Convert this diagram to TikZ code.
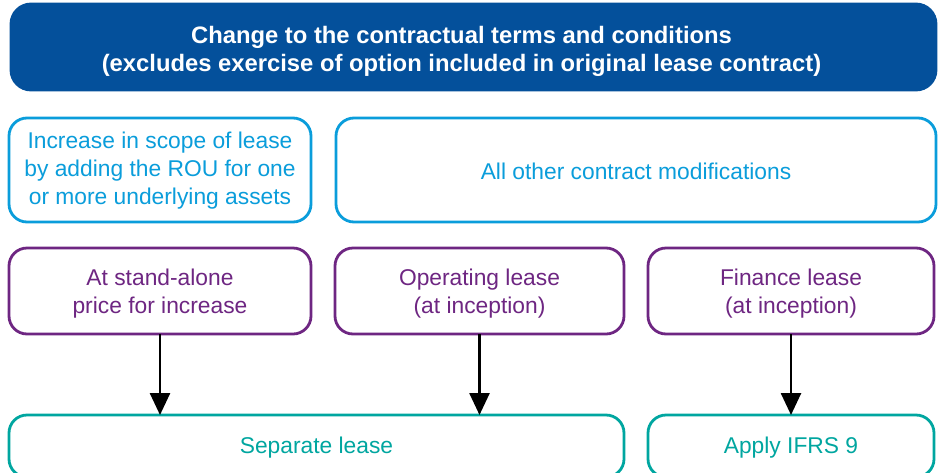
\documentclass[tikz,border=0pt]{standalone}
\usepackage{fontspec}
\setmainfont{Liberation Sans}
\usetikzlibrary{arrows.meta}
\definecolor{darkblue}{RGB}{4,80,155}
\definecolor{lightblue}{RGB}{10,157,219}
\definecolor{kpurple}{RGB}{110,38,130}
\definecolor{kteal}{RGB}{0,166,160}
\tikzset{
  box/.style={draw, rounded corners=18pt, line width=2.8pt, fill=white,
    inner sep=0pt, outer sep=0pt},
  txt/.style={align=center, inner sep=0pt, font=\fontsize{22.8}{28}\selectfont},
  headbox/.style={box, draw=darkblue, fill=darkblue, rounded corners=20pt},
  headtxt/.style={txt, text=white, font=\fontsize{23.8}{28}\selectfont\bfseries},
  bluebox/.style={box, draw=lightblue},
  purplebox/.style={box, draw=kpurple},
  tealbox/.style={box, draw=kteal},
  flow/.style={line width=2.6pt, -{Triangle[width=20pt,length=22pt]}}
}
\begin{document}
\begin{tikzpicture}[x=1pt,y=-1pt]
\useasboundingbox (0,0) rectangle (942,472);
\node[headbox, minimum width=925pt, minimum height=86pt] (head) at (473.5,47) {};
\node[headtxt] (headt) at ([xshift=-12pt,yshift=-4pt]head.center)
  {Change to the contractual terms and conditions\\(excludes exercise of option included in original lease contract)};
\node[bluebox, minimum width=302pt, minimum height=104pt] (inc) at (160,170) {};
\node[txt, text=lightblue] (inct) at ([yshift=-1pt]inc.center)
  {Increase in scope of lease\\by adding the ROU for one\\or more underlying assets};
\node[bluebox, minimum width=600pt, minimum height=104pt] (other) at (636,170) {};
\node[txt, text=lightblue] (othert) at ([yshift=-1pt]other.center)
  {All other contract modifications};
\node[purplebox, minimum width=302pt, minimum height=86pt] (stand) at (160,291) {};
\node[txt, text=kpurple] (standt) at ([yshift=-3pt]stand.center)
  {At stand-alone\\price for increase};
\node[purplebox, minimum width=289pt, minimum height=86pt] (oper) at (479.5,291) {};
\node[txt, text=kpurple] (opert) at ([yshift=-3pt]oper.center)
  {Operating lease\\(at inception)};
\node[purplebox, minimum width=286pt, minimum height=86pt] (fin) at (791,291) {};
\node[txt, text=kpurple] (fint) at ([yshift=-3pt]fin.center)
  {Finance lease\\(at inception)};
\node[tealbox, minimum width=615pt, minimum height=62pt] (sep) at (316.5,446) {};
\node[txt, text=kteal] (sept) at ([yshift=-2pt]sep.center) {Separate lease};
\node[tealbox, minimum width=286pt, minimum height=62pt] (ifrs) at (791,446) {};
\node[txt, text=kteal] (ifrst) at ([yshift=-2pt]ifrs.center) {Apply IFRS 9};
\draw[flow] (stand.south) -- (stand.south |- sep.north);
\draw[flow] (oper.south) -- (oper.south |- sep.north);
\draw[flow] (fin.south) -- (ifrs.north);
\end{tikzpicture}
\end{document}
